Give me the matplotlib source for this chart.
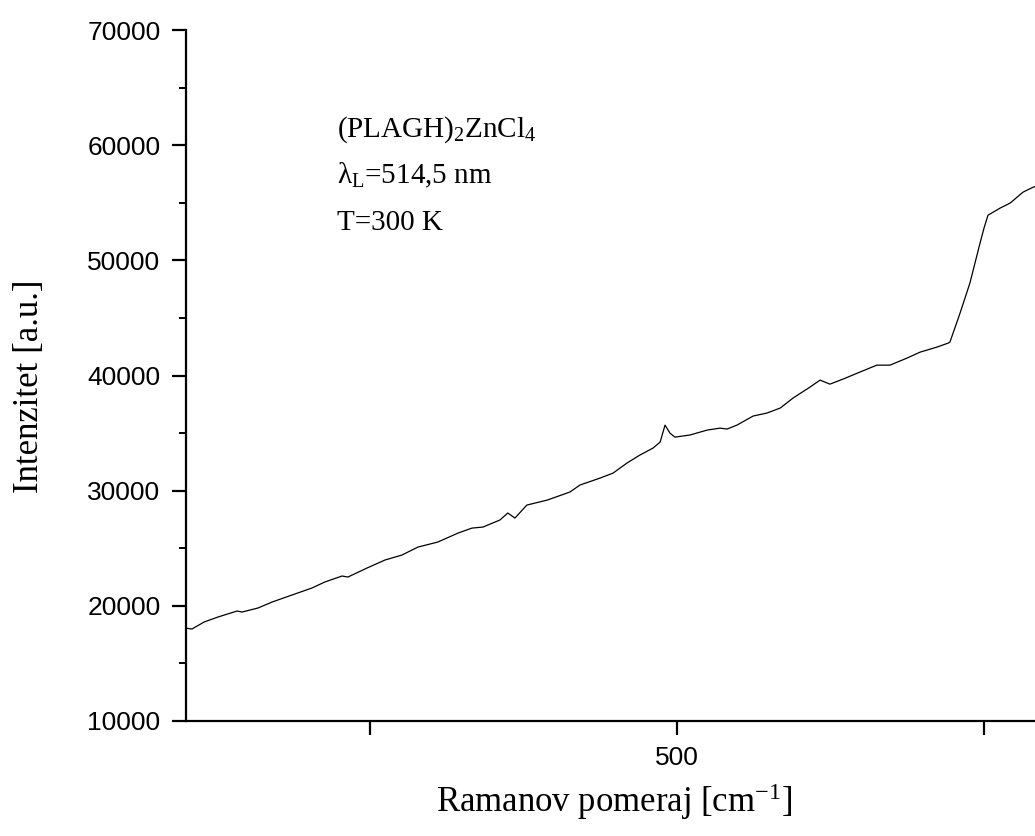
import matplotlib
matplotlib.use("Agg")
import matplotlib.pyplot as plt

# Raman spectrum of (PLAGH)2ZnCl4, shift in cm^-1, intensity in a.u.
shift = [339.7, 342.0, 346.0, 350.5, 356.7, 358.3, 363.5, 368.1, 374.6, 381.1,
         385.3, 390.9, 392.8, 399.0, 404.9, 410.4, 415.6, 422.1, 428.7, 433.2,
         436.8, 442.3, 444.9, 447.2, 451.1, 457.7, 465.1, 468.4, 474.9, 479.2,
         483.7, 487.9, 492.2, 494.5, 496.1, 497.7, 499.3, 504.2, 509.8, 514.0,
         516.3, 519.5, 524.8, 529.3, 533.6, 537.8, 543.3, 546.6, 549.8, 554.1,
         559.6, 565.1, 569.4, 574.9, 579.2, 584.7, 588.3, 588.9, 592.2, 595.4,
         598.7, 600.0, 601.3, 605.2, 608.5, 612.7, 616.0, 620.0]
intensity = [18070, 17990, 18600, 19030, 19550, 19460, 19810, 20330, 20940, 21550,
             22070, 22590, 22500, 23280, 23980, 24410, 25100, 25540, 26320, 26750,
             26840, 27450, 28060, 27620, 28750, 29180, 29880, 30490, 31090, 31530,
             32400, 33090, 33700, 34220, 35690, 35000, 34650, 34830, 35260, 35430,
             35350, 35690, 36480, 36740, 37170, 38040, 38990, 39600, 39250, 39690,
             40300, 40900, 40900, 41510, 42030, 42470, 42810, 42900, 45420, 48020,
             51490, 52800, 53920, 54530, 54970, 55920, 56350, 56700]

y_ticks = [10000, 20000, 30000, 40000, 50000, 60000, 70000]
y_minor = [15000, 25000, 35000, 45000, 55000, 65000]
x_ticks = [400, 500, 600]
x_tick_labels = ["", "500", ""]

plt.rcParams["mathtext.fontset"] = "custom"
plt.rcParams["mathtext.rm"] = "Liberation Serif"
plt.rcParams["mathtext.it"] = "Liberation Serif:italic"

fig = plt.figure(figsize=(10.35, 8.36), dpi=100)

# axes run past the right edge of the figure, so the plot is cut there
px_per_unit = 3.07
x_min, x_max = 339.9, 660
left = 185.5 / 1035
width = (x_max - x_min) * px_per_unit / 1035
bottom = (836 - 721) / 836
height = (721 - 30) / 836
ax = fig.add_axes([left, bottom, width, height])

ax.plot(shift, intensity, color="black", linewidth=0.9)

ax.set_xlim(x_min, x_max)
ax.set_ylim(10000, 70000)
ax.set_xticks(x_ticks)
ax.set_xticklabels(x_tick_labels)
ax.set_yticks(y_ticks)
ax.set_yticks(y_minor, minor=True)

for side in ["top", "right"]:
    ax.spines[side].set_visible(False)
for side in ["left", "bottom"]:
    ax.spines[side].set_linewidth(1.6)

ax.tick_params(axis="both", which="major", direction="out", length=10,
               width=1.6, labelsize=19)
ax.tick_params(axis="y", which="minor", direction="out", length=5, width=1.4)
ax.tick_params(axis="y", which="major", pad=8)
ax.tick_params(axis="x", which="major", pad=8)
for lbl in ax.get_xticklabels() + ax.get_yticklabels():
    lbl.set_fontfamily("Liberation Sans")

serif = "Liberation Serif"
fig.text(30 / 1035, 1 - 386 / 836, "Intenzitet [a.u.]", rotation=90,
         ha="center", va="center", fontsize=25, family=serif)
fig.text(614 / 1035, 1 - 812 / 836, r"Ramanov pomeraj [cm$^{-1}$]",
         ha="center", va="baseline", fontsize=25, family=serif)

# sample and measurement conditions
notes = [r"(PLAGH)$_2$ZnCl$_4$", r"λ$_\mathrm{L}$=514,5 nm", "T=300 K"]
for i, note in enumerate(notes):
    fig.text(337 / 1035, 1 - (137 + 46.5 * i) / 836, note,
             ha="left", va="baseline", fontsize=21, family=serif)

fig.savefig("out.png", dpi=100)
